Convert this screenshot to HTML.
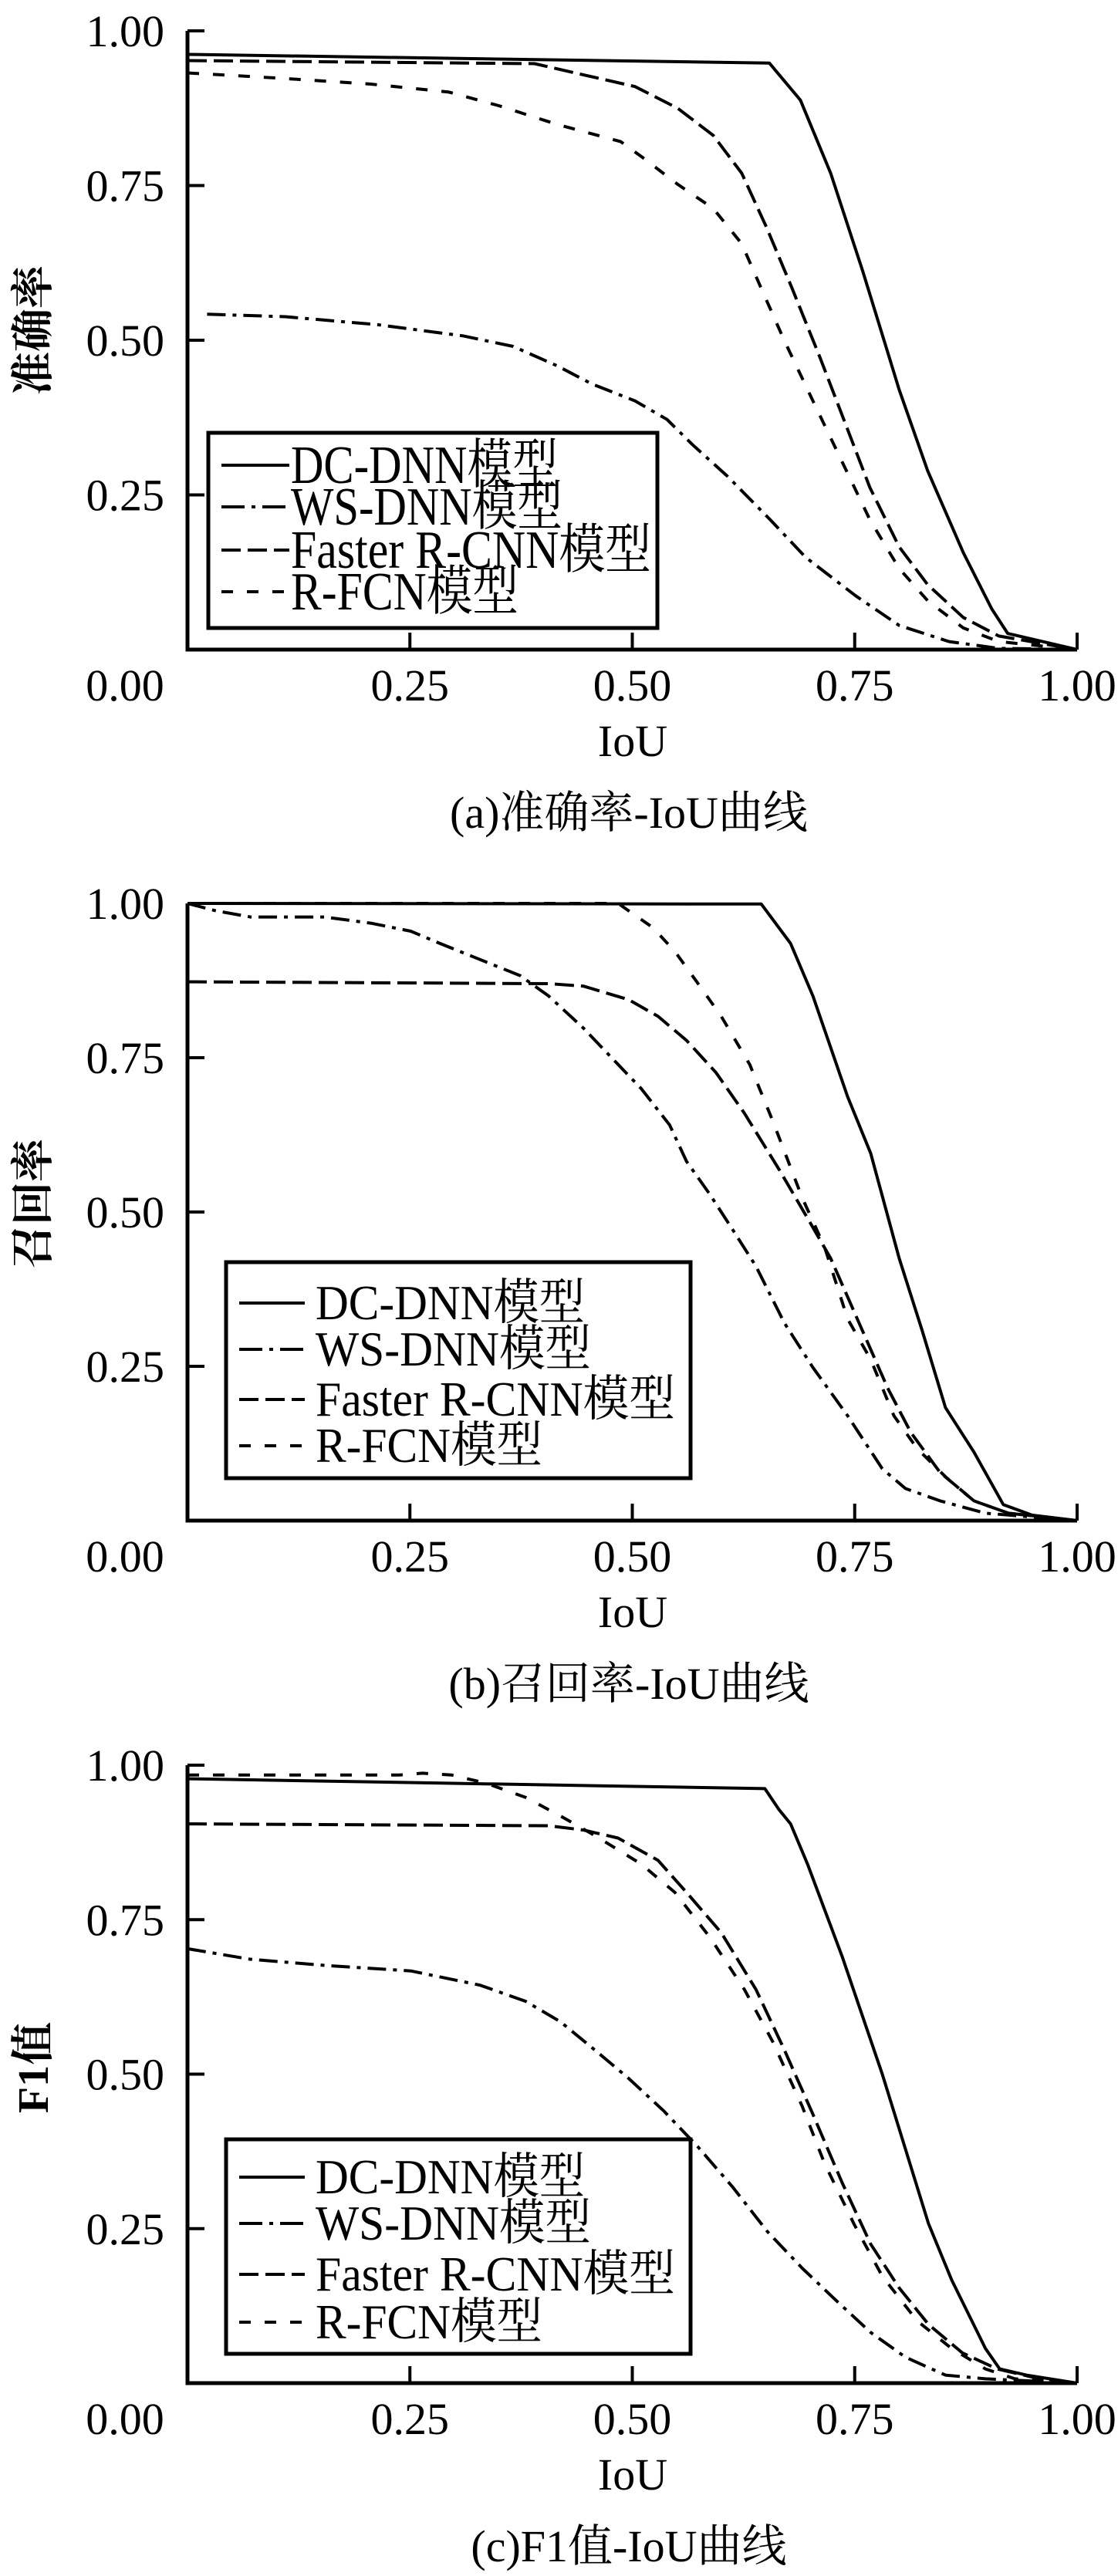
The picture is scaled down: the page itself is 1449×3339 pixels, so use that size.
<!DOCTYPE html>
<html><head><meta charset="utf-8">
<style>
html,body{margin:0;padding:0;background:#fff;}
svg{display:block;}
text{font-family:"Liberation Serif","Noto Serif CJK SC","Noto Sans CJK SC",serif;fill:#000;}
</style></head>
<body>
<svg id="fig" width="1449" height="3339" viewBox="0 0 1449 3339" xmlns="http://www.w3.org/2000/svg"></svg>
<script>
// shared x data per series (IoU) and values per chart
const xTicks = [0.25, 0.5, 0.75, 1.0];
const yTicks = [0.25, 0.5, 0.75, 1.0];
const xTickLabels = ["0.25", "0.50", "0.75", "1.00"];
const yTickLabels = ["0.25", "0.50", "0.75", "1.00"];
const seriesNames = ["DC-DNN模型", "WS-DNN模型", "Faster R-CNN模型", "R-FCN模型"];

// Chart (a) precision
const aDCx = [0,0.654,0.689,0.723,0.759,0.787,0.8,0.832,0.872,0.904,0.922,1];
const aDCy = [0.962,0.948,0.888,0.77,0.612,0.481,0.42,0.289,0.157,0.066,0.026,0];
const aWSx = [0.022,0.11,0.214,0.31,0.366,0.415,0.455,0.503,0.539,0.567,0.607,0.655,0.695,0.751,0.8,0.856,0.912,1];
const aWSy = [0.542,0.538,0.525,0.507,0.49,0.459,0.429,0.402,0.372,0.332,0.28,0.21,0.149,0.087,0.039,0.013,0.002,0];
const aFRx = [0,0.39,0.503,0.551,0.591,0.623,0.651,0.679,0.711,0.739,0.767,0.8,0.832,0.872,0.912,1];
const aFRy = [0.952,0.947,0.91,0.875,0.831,0.77,0.682,0.586,0.472,0.367,0.262,0.166,0.105,0.052,0.022,0];
const aRFx = [0,0.11,0.206,0.294,0.35,0.415,0.487,0.511,0.551,0.591,0.623,0.647,0.671,0.703,0.735,0.767,0.8,0.832,0.872,0.912,1];
const aRFy = [0.932,0.923,0.914,0.901,0.879,0.849,0.821,0.796,0.752,0.713,0.656,0.577,0.499,0.402,0.306,0.21,0.131,0.079,0.035,0.013,0];

// Chart (b) recall
const bDCx = [0,0.645,0.678,0.703,0.742,0.768,0.8,0.826,0.852,0.884,0.917,0.949,1];
const bDCy = [1.0,0.999,0.935,0.85,0.687,0.595,0.425,0.307,0.183,0.111,0.026,0.009,0];
const bWSx = [0,0.032,0.071,0.154,0.206,0.251,0.284,0.329,0.374,0.406,0.445,0.484,0.51,0.542,0.561,0.587,0.613,0.639,0.671,0.703,0.742,0.781,0.807,0.846,0.897,1];
const bWSy = [1.0,0.988,0.978,0.978,0.968,0.955,0.935,0.909,0.883,0.85,0.798,0.739,0.7,0.641,0.582,0.529,0.471,0.412,0.32,0.248,0.17,0.084,0.052,0.032,0.012,0];
const bFRx = [0,0.406,0.445,0.496,0.529,0.561,0.594,0.626,0.665,0.697,0.723,0.755,0.787,0.813,0.846,0.884,0.923,1];
const bFRy = [0.873,0.87,0.866,0.844,0.817,0.778,0.726,0.66,0.569,0.49,0.425,0.32,0.215,0.143,0.078,0.032,0.012,0];
const bRFx = [0,0.458,0.484,0.523,0.548,0.574,0.6,0.632,0.658,0.691,0.716,0.742,0.768,0.794,0.82,0.852,0.884,0.923,1];
const bRFy = [1.0,1.0,1.0,0.961,0.922,0.87,0.817,0.739,0.647,0.523,0.444,0.327,0.261,0.17,0.117,0.071,0.032,0.012,0];

// Chart (c) F1
const cDCx = [0,0.649,0.665,0.678,0.697,0.736,0.781,0.833,0.859,0.897,0.913,0.943,1];
const cDCy = [0.978,0.962,0.928,0.905,0.84,0.69,0.5,0.258,0.167,0.056,0.023,0.013,0];
const cWSx = [0,0.07,0.154,0.251,0.329,0.38,0.419,0.458,0.496,0.535,0.574,0.613,0.652,0.691,0.729,0.768,0.807,0.852,0.897,1];
const cWSy = [0.703,0.686,0.676,0.667,0.644,0.618,0.585,0.539,0.493,0.441,0.382,0.317,0.245,0.186,0.134,0.082,0.042,0.013,0.007,0];
const cFRx = [0,0.406,0.445,0.484,0.529,0.561,0.6,0.639,0.671,0.703,0.736,0.768,0.8,0.833,0.871,0.91,0.949,1];
const cFRy = [0.905,0.902,0.895,0.882,0.846,0.794,0.729,0.637,0.539,0.435,0.324,0.225,0.154,0.095,0.049,0.023,0.01,0];
const cRFx = [0,0.238,0.264,0.297,0.335,0.38,0.419,0.458,0.51,0.548,0.587,0.626,0.658,0.691,0.716,0.749,0.781,0.82,0.859,0.897,0.93,1];
const cRFy = [0.984,0.984,0.987,0.984,0.971,0.948,0.918,0.886,0.84,0.794,0.722,0.637,0.552,0.448,0.356,0.258,0.173,0.101,0.056,0.023,0.007,0];

const NS = "http://www.w3.org/2000/svg";
const svg = document.getElementById("fig");
function mk(tag, attrs, parent) {
  const e = document.createElementNS(NS, tag);
  for (const k in attrs) e.setAttribute(k, attrs[k]);
  (parent || svg).appendChild(e);
  return e;
}
const dashes = ["", "24 9 5 9", "25 9", "15 18"];

const charts = [
  {id:"precision", top:40, bot:842, ytitle:"准确率", caption:"(a)准确率-IoU曲线", titleY:428,
   leg:{x:270,y:561,w:582,h:253,rows:[603,657,713,767],lx1:287,lx2:375,tx:377,fs:70,tl:[346,352,467,295]},
   series:[[aDCx,aDCy],[aWSx,aWSy],[aFRx,aFRy],[aRFx,aRFy]]},
  {id:"recall", top:1171, bot:1971, ytitle:"召回率", caption:"(b)召回率-IoU曲线", titleY:1560,
   leg:{x:293,y:1636,w:602,h:280,rows:[1689,1749,1814,1874],lx1:310,lx2:395,tx:409,fs:64,tl:[349,357,466,294]},
   series:[[bDCx,bDCy],[bWSx,bWSy],[bFRx,bFRy],[bRFx,bRFy]]},
  {id:"f1", top:2288, bot:3089, ytitle:"F1值", caption:"(c)F1值-IoU曲线", titleY:2680,
   leg:{x:293,y:2773,w:602,h:278,rows:[2822,2882,2948,3010],lx1:310,lx2:395,tx:409,fs:64,tl:[349,357,466,294]},
   series:[[cDCx,cDCy],[cWSx,cWSy],[cFRx,cFRy],[cRFx,cRFy]]}
];
const X0 = 243, X1 = 1396;

charts.forEach(c => {
  const g = mk("g", {});
  
  
  const sx = v => X0 + v * (X1 - X0);
  const sy = v => c.bot - v * (c.bot - c.top);

  // series
  c.series.forEach((s, i) => {
    const pts = s[0].map((xv, j) => sx(xv).toFixed(1) + "," + sy(s[1][j]).toFixed(1)).join(" ");
    const pl = mk("polyline", {points: pts, fill: "none", stroke: "#000", "stroke-width": 4, "stroke-linejoin": "round"}, g);
    if (dashes[i]) pl.setAttribute("stroke-dasharray", dashes[i]);
    
    
  });

  // axes
  const ax = mk("path", {d: `M${X0},${c.top} L${X0},${c.bot} L${X1},${c.bot}`, fill: "none", stroke: "#000", "stroke-width": 5}, g);
  
  

  yTicks.forEach((t, i) => {
    const y = sy(t);
    const tk = mk("line", {x1: X0, x2: X0 + 22, y1: y, y2: y, stroke: "#000", "stroke-width": 4}, g);
    
    
    const tx = mk("text", {x: 213, y: y + 20, "text-anchor": "end", "font-size": 58}, g);
    tx.textContent = yTickLabels[i];
    
    
  });
  xTicks.forEach((t, i) => {
    const x = sx(t);
    const tk = mk("line", {x1: x, x2: x, y1: c.bot, y2: c.bot - 22, stroke: "#000", "stroke-width": 4}, g);
    
    
    const tx = mk("text", {x: x, y: c.bot + 66, "text-anchor": "middle", "font-size": 58}, g);
    tx.textContent = xTickLabels[i];
    
    
  });
  const z = mk("text", {x: 162, y: c.bot + 66, "text-anchor": "middle", "font-size": 58}, g);
  z.textContent = "0.00";
  
  

  const xt = mk("text", {x: 820, y: c.bot + 138, "text-anchor": "middle", "font-size": 58}, g);
  xt.textContent = "IoU";
  
  

  const yt = mk("text", {x: 0, y: 0, "text-anchor": "middle", "font-size": 56, "font-weight": "bold",
    transform: `translate(62,${c.titleY}) rotate(-90)`}, g);
  yt.textContent = c.ytitle;
  
  

  const cap = mk("text", {x: 815, y: c.bot + 231, "text-anchor": "middle", "font-size": 58}, g);
  cap.textContent = c.caption;
  
  

  // legend
  const L = c.leg;
  const lg = mk("g", {}, g);
  
  
  mk("rect", {x: L.x, y: L.y, width: L.w, height: L.h, fill: "#fff", stroke: "#000", "stroke-width": 5}, lg);
  seriesNames.forEach((n, i) => {
    const ry = L.rows[i];
    const ln = mk("line", {x1: L.lx1, x2: L.lx2, y1: ry, y2: ry, stroke: "#000", "stroke-width": 4}, lg);
    if (dashes[i]) ln.setAttribute("stroke-dasharray", dashes[i] === "24 9 5 9" ? "30 9 5 9" : dashes[i]);
    
    
    const t = mk("text", {x: L.tx, y: ry + L.fs * 0.33, "font-size": L.fs, textLength: L.tl[i], lengthAdjust: "spacingAndGlyphs"}, lg);
    t.textContent = n;
    
    
  });
});
</script>
</body></html>
